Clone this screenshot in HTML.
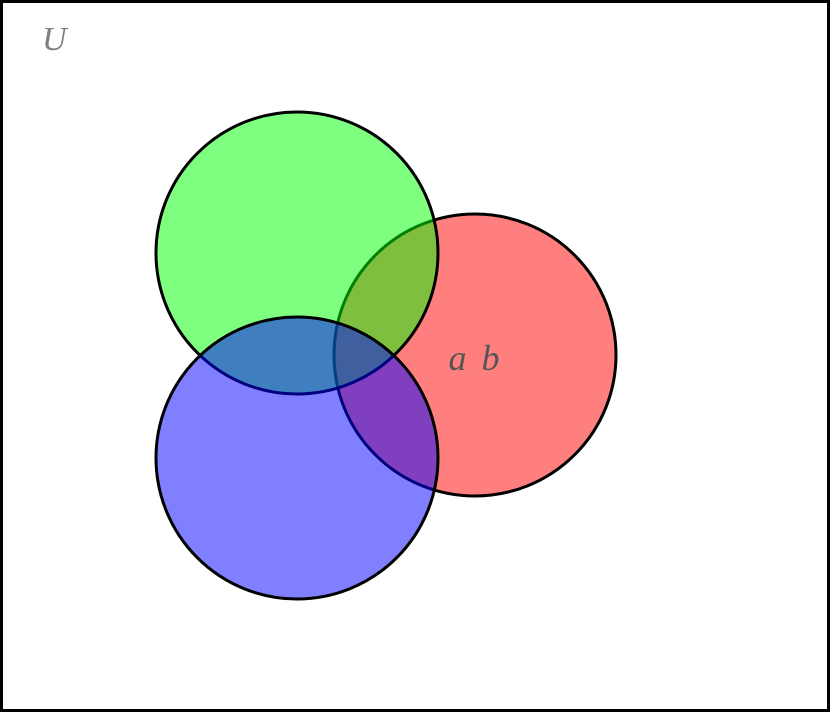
<!DOCTYPE html>
<html>
<head>
<meta charset="utf-8">
<style>
  html, body { margin: 0; padding: 0; background: #fff; }
  svg { display: block; }
</style>
</head>
<body>
<svg width="830" height="712" viewBox="0 0 830 712">
  <rect x="1.5" y="1.5" width="827" height="709" fill="#fff" stroke="#000" stroke-width="3"/>
  <text x="42" y="50" font-family="'Liberation Serif', serif" font-style="italic" font-size="34" fill="#808080">U</text>
  <circle cx="475" cy="355" r="141" fill="#ff0000" fill-opacity="0.5" stroke="#000" stroke-width="3"/>
  <circle cx="297" cy="253" r="141" fill="#00ff00" fill-opacity="0.5" stroke="#000" stroke-width="3"/>
  <circle cx="297" cy="458" r="141" fill="#0000ff" fill-opacity="0.5" stroke="#000" stroke-width="3"/>
  <text x="474" y="370" text-anchor="middle" font-family="'Liberation Serif', serif" font-style="italic" font-size="36" word-spacing="6" fill="#555">a b</text>
</svg>
</body>
</html>
